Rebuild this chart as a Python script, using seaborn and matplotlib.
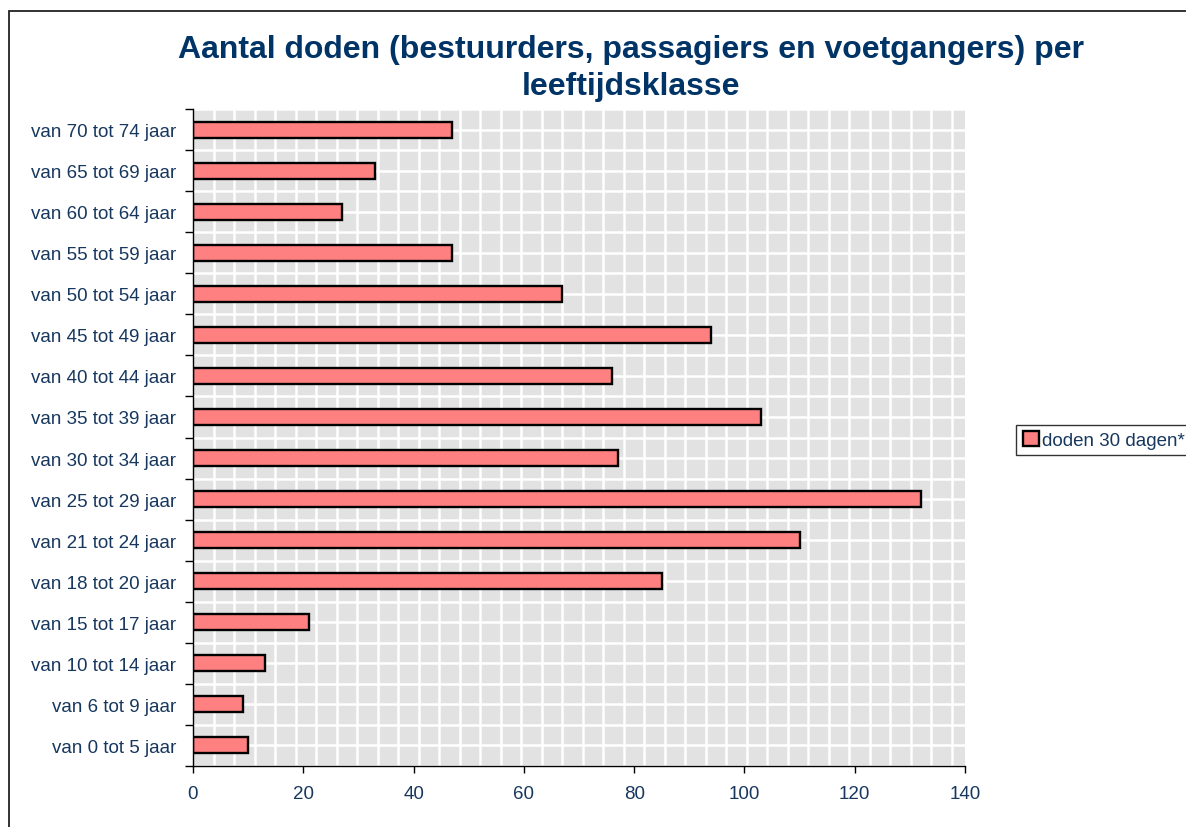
import numpy as np
import matplotlib
matplotlib.use("Agg")
import matplotlib.pyplot as plt
import matplotlib.patches as mpatches
import seaborn as sns

categories = ["van 70 tot 74 jaar", "van 65 tot 69 jaar", "van 60 tot 64 jaar",
              "van 55 tot 59 jaar", "van 50 tot 54 jaar", "van 45 tot 49 jaar",
              "van 40 tot 44 jaar", "van 35 tot 39 jaar", "van 30 tot 34 jaar",
              "van 25 tot 29 jaar", "van 21 tot 24 jaar", "van 18 tot 20 jaar",
              "van 15 tot 17 jaar", "van 10 tot 14 jaar", "van 6 tot 9 jaar",
              "van 0 tot 5 jaar"]
values = [47, 33, 27, 47, 67, 94, 76, 103, 77, 132, 110, 85, 21, 13, 9, 10]
series_name = "doden 30 dagen*"
x_ticks = [0, 20, 40, 60, 80, 100, 120, 140]

sns.set_theme(style="white")
plt.rcParams['font.family'] = ['Liberation Sans', 'DejaVu Sans']

W, H = 1186, 828
fig = plt.figure(figsize=(W / 100, H / 100), dpi=100)
ax = fig.add_axes([193 / W, 1 - 767 / H, (965 - 193) / W, (767 - 110) / H])

text_col = '#17375e'
title_col = '#003366'

ax.set_facecolor('#e2e2e2')
# pattern-like white grid
for xv in np.arange(3.72, 140, 3.72):
    ax.axvline(xv, color='white', lw=1.8, zorder=0.5)
for yv in np.arange(-0.5, 15.6, 0.5):
    ax.axhline(yv, color='white', lw=1.8, zorder=0.5)

sns.barplot(x=values, y=categories, orient='h', color='#ff8080',
            edgecolor='black', linewidth=1.7, width=0.39, ax=ax,
            saturation=1, label=series_name, zorder=2)

ax.set_xlim(0, 140)
ax.set_ylim(15.5, -0.5)
ax.set_xticks(x_ticks)
ax.set_xticklabels([str(t) for t in x_ticks], color=text_col, fontsize=13.5)
ax.set_yticks(range(len(categories)))
ax.set_yticklabels(categories, color=text_col, fontsize=13.5)
ax.tick_params(axis='y', which='major', length=0, pad=12)
ax.set_yticks(np.arange(-0.5, 15.6, 1.0), minor=True)
ax.tick_params(axis='y', which='minor', length=6, width=1, color='black', left=True, direction='out')
ax.tick_params(axis='x', which='major', length=5, width=1, color='black', bottom=True, direction='out', pad=9)
ax.set_xlabel("")
ax.set_ylabel("")

for s in ['top', 'right']:
    ax.spines[s].set_visible(False)
for s in ['left', 'bottom']:
    ax.spines[s].set_visible(True)
    ax.spines[s].set_color('black')
    ax.spines[s].set_linewidth(1)

fig.text(631 / W, 1 - 50 / H, "Aantal doden (bestuurders, passagiers en voetgangers) per",
         ha='center', va='center', fontsize=23, fontweight='bold', color=title_col)
fig.text(631 / W, 1 - 87 / H, "leeftijdsklasse",
         ha='center', va='center', fontsize=23, fontweight='bold', color=title_col)

leg = ax.legend(loc='center left', bbox_to_anchor=(1016 / W, 1 - 441 / H),
                bbox_transform=fig.transFigure, frameon=True, fancybox=False,
                fontsize=13.5, handlelength=0.9, handleheight=0.8, handletextpad=0.15,
                borderpad=0.35, borderaxespad=0)
leg.get_frame().set_edgecolor('black')
leg.get_frame().set_linewidth(1)
for t in leg.get_texts():
    t.set_color(text_col)

border = mpatches.Rectangle((9 / W, -0.1), 1.2, (1 - 12 / H) + 0.1,
                            transform=fig.transFigure, fill=False,
                            edgecolor='#222222', lw=1.3)
fig.patches.append(border)

fig.savefig("out.png", dpi=100)
